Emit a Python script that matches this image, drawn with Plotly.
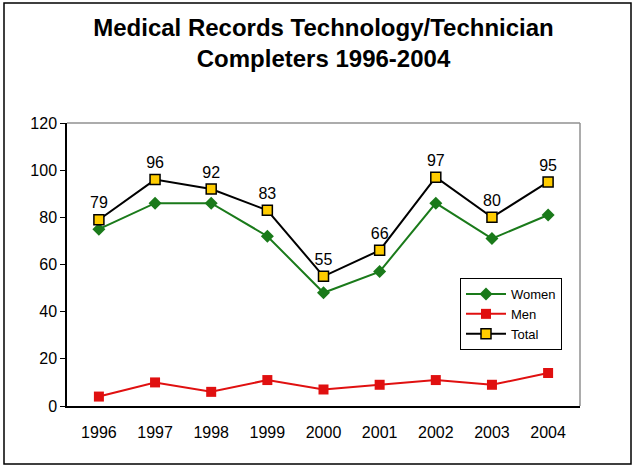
import plotly.graph_objects as go

years = ["1996", "1997", "1998", "1999", "2000", "2001", "2002", "2003", "2004"]
women = [75, 86, 86, 72, 48, 57, 86, 71, 81]
men = [4, 10, 6, 11, 7, 9, 11, 9, 14]
total = [79, 96, 92, 83, 55, 66, 97, 80, 95]

W, H = 634, 466
ml, mr, mt, mb = 67, 54, 123, 60
pw, ph = W - ml - mr, H - mt - mb

font = "Liberation Sans"

fig = go.Figure()
fig.add_trace(go.Scatter(
    x=years, y=women, name="Women", mode="lines+markers",
    line=dict(color="#1a7a1a", width=2),
    marker=dict(symbol="diamond", size=10, color="#1a7a1a"),
))
fig.add_trace(go.Scatter(
    x=years, y=men, name="Men", mode="lines+markers",
    line=dict(color="#e01010", width=2),
    marker=dict(symbol="square", size=10, color="#e01010"),
))
fig.add_trace(go.Scatter(
    x=years, y=total, name="Total", mode="lines+markers+text",
    line=dict(color="#000000", width=2),
    marker=dict(symbol="square", size=10, color="#ffcc00",
                line=dict(color="#000000", width=1.5)),
    text=[str(v) for v in total], textposition="top center",
    textfont=dict(family=font, size=16, color="#000000"),
))

def px_x(p):
    return (p - ml) / pw

def px_y(p):
    return (H - mb - p) / ph

fig.update_layout(
    width=W, height=H,
    margin=dict(l=ml, r=mr, t=mt, b=mb),
    paper_bgcolor="white", plot_bgcolor="white",
    font=dict(family=font, size=16, color="#000000"),
    title=dict(
        text="<b>Medical Records Technology/Technician<br>Completers 1996-2004</b>",
        x=0.5, xref="paper", xanchor="center",
        y=1 - 36 / H, yanchor="top",
        font=dict(family=font, size=24, color="#000000"),
    ),
    showlegend=True,
    legend=dict(
        x=px_x(460), y=px_y(278), xanchor="left", yanchor="top",
        bgcolor="white", bordercolor="#000000", borderwidth=1,
        font=dict(family=font, size=13, color="#000000"),
        tracegroupgap=0, itemwidth=40,
    ),
    xaxis=dict(
        type="category", showgrid=False, showline=True,
        linecolor="#000000", linewidth=1.5, ticks="outside",
        ticklen=11, tickcolor="rgba(0,0,0,0)",
        tickfont=dict(family=font, size=16), fixedrange=True,
    ),
    yaxis=dict(
        range=[0, 120], dtick=20, showgrid=False, showline=True,
        linecolor="#000000", linewidth=1.5, ticks="outside",
        ticklen=5, tickcolor="#000000", tickfont=dict(family=font, size=16),
        zeroline=False,
    ),
    shapes=[
        # gray frame on top and right of plot area
        dict(type="line", xref="paper", yref="paper", x0=0, x1=1, y0=1, y1=1,
             line=dict(color="#909090", width=1.5)),
        dict(type="line", xref="paper", yref="paper", x0=1, x1=1, y0=0, y1=1,
             line=dict(color="#909090", width=1.5)),
        # outer border of the chart
        dict(type="rect", xref="paper", yref="paper",
             x0=px_x(4), x1=px_x(631), y0=px_y(464), y1=px_y(3),
             line=dict(color="#000000", width=1.5), layer="below"),
    ],
)

fig.write_html("out.html")
